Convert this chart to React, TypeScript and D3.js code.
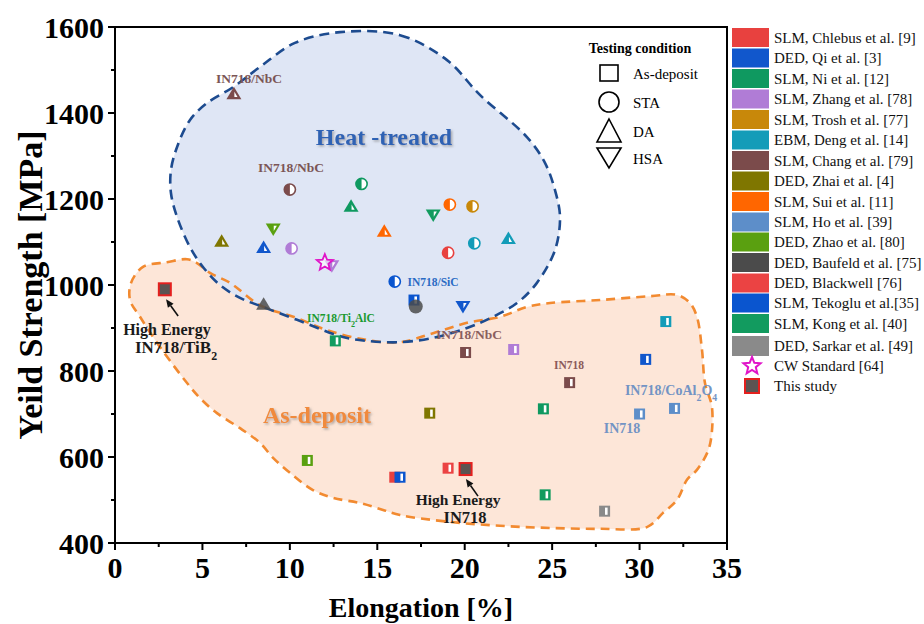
import React from "react";
import * as d3 from "d3";

const W = 924;
const H = 624;
const FONT = "'Liberation Serif', 'Times New Roman', serif";

const xTicks = [0, 5, 10, 15, 20, 25, 30, 35];
const yTicks = [400, 600, 800, 1000, 1200, 1400, 1600];

const seriesNames = [
  "SLM, Chlebus et al. [9]",
  "DED, Qi et al. [3]",
  "SLM, Ni et al. [12]",
  "SLM, Zhang et al. [78]",
  "SLM, Trosh et al. [77]",
  "EBM, Deng et al. [14]",
  "SLM, Chang et al. [79]",
  "DED, Zhai et al. [4]",
  "SLM, Sui et al. [11]",
  "SLM, Ho et al. [39]",
  "DED, Zhao et al. [80]",
  "DED, Baufeld et al. [75]",
  "DED, Blackwell [76]",
  "SLM, Tekoglu et al.[35]",
  "SLM, Kong et al. [40]",
  "DED, Sarkar et al. [49]",
];
const seriesColors = [
  "#e8413f", "#1157cc", "#0f9960", "#b07cd6", "#c8880a", "#139cb8",
  "#7b4b4b", "#7f7600", "#ff6600", "#5d8ec9", "#5aa010", "#4b4b4b",
  "#eb4343", "#0a55cf", "#129b5f", "#8a8a8a",
];

const conditionNames = ["As-deposit", "STA", "DA", "HSA"];

// data points: series index, condition index (0 AD, 1 STA, 2 DA, 3 HSA), elongation, yield strength
const ptSeries = [6, 6, 2, 2, 7, 10, 1, 3, 3, 8, 14, 8, 4, 5, 5, 0, 13, 13, 11, 1, 11,
  14, 6, 3, 5, 1, 6, 7, 2, 9, 9, 10, 0, 13, 12, 14, 15];
const ptCond = [2, 1, 1, 2, 2, 3, 2, 1, 3, 2, 3, 1, 1, 2, 1, 1, 1, 0, 1, 3, 2,
  0, 0, 0, 0, 0, 0, 0, 0, 0, 0, 0, 0, 0, 0, 0, 0];
const ptElong = [6.8, 10.0, 14.1, 13.5, 6.1, 9.05, 8.5, 10.1, 12.4, 15.4, 18.2, 19.15, 20.45, 22.5, 20.55, 19.05, 16.0, 17.1, 17.2, 19.9, 8.5,
  12.6, 20.05, 22.8, 31.5, 30.35, 26.0, 18.0, 24.5, 30.0, 32.0, 11.0, 16.0, 16.3, 19.05, 24.6, 28.0];
const ptYS = [1445, 1222, 1235, 1183, 1102, 1130, 1087, 1085, 1045, 1125, 1163, 1187, 1183, 1108, 1097, 1075, 1008, 965, 950, 950, 955,
  870, 843, 850, 915, 827, 773, 702, 712, 700, 713, 592, 553, 553, 574, 512, 474];

const cwElong = [12.0];
const cwYS = [1052];
const studyElong = [2.85, 20.05];
const studyYS = [990, 572];

// region outlines (data units)
const heatElong = [12.87, 16.3, 18.99, 20.87, 23.56, 24.59, 25.16, 25.45, 25.16, 24.13, 22.99, 21.62, 20.13, 18.19, 16.3, 14.41, 13.04, 10.41, 8.46, 7.15, 6.0, 5.03, 4.29, 3.55, 3.2, 3.2, 3.55, 4.29, 5.26, 6.75, 8.29, 10.29];
const heatYS = [1588, 1581, 1523, 1442, 1344, 1284, 1221, 1158, 1081, 1005, 958, 926, 900, 877, 867, 870, 879, 919, 949, 970, 1000, 1042, 1088, 1158, 1214, 1267, 1321, 1384, 1423, 1460, 1507, 1563];
const depElong = [1.6, 2.97, 4.12, 4.69, 5.43, 6.58, 8.29, 10.41, 12.12, 14.41, 16.3, 18.19, 20.13, 22.02, 23.56, 24.88, 27.74, 30.6, 32.14, 32.88, 33.28, 33.57, 33.74, 34.14, 34.08, 33.86, 33.28, 32.71, 32.14, 31.34, 30.42, 27.74, 24.88, 22.02, 19.16, 16.3, 15.33, 14.01, 12.47, 11.32, 10.01, 9.04, 8.29, 7.15, 5.83, 4.86, 4.12, 2.57, 1.43, 0.86, 0.92];
const depYS = [1042, 1053, 1060, 1051, 1028, 1005, 953, 923, 895, 872, 867, 888, 912, 926, 949, 958, 965, 974, 977, 958, 926, 849, 772, 716, 640, 609, 570, 547, 500, 470, 437, 433, 435, 440, 449, 465, 477, 493, 505, 523, 563, 598, 633, 667, 702, 737, 772, 856, 926, 965, 1005];

// annotation labels
const labelText = ["IN718/NbC", "IN718/NbC", "IN718/SiC", "IN718/Ti|2|AlC", "IN718/NbC", "IN718", "IN718/CoAl|2|O|4", "IN718"];
const labelElong = [7.66, 10.07, 18.19, 12.92, 20.24, 25.96, 31.8, 29.0];
const labelYS = [1470, 1263, 998, 914, 874, 805, 744, 656];
const labelColor = ["#7b5555", "#7b5555", "#2a6bc4", "#1b9a30", "#8a5e5e", "#8b5a5a", "#7394c4", "#7394c4"];
const labelSize = [13.5, 13.5, 11.5, 11.5, 13.5, 11.5, 14, 14];

const xScale = d3.scaleLinear().domain([0, 35]).range([115, 727]);
const yScale = d3.scaleLinear().domain([400, 1600]).range([543, 27]);

function renderSub(t: string) {
  const parts = t.split("|");
  return parts.map((p, i) =>
    i % 2 === 1 ? (
      <tspan key={i} baselineShift="sub" fontSize="70%">{p}</tspan>
    ) : (
      <tspan key={i}>{p}</tspan>
    )
  );
}

function Marker({ cx, cy, cond, color, solid }: { cx: number; cy: number; cond: number; color: string; solid?: boolean }) {
  if (cond === 0) {
    return (
      <g>
        <rect x={cx - 5.5} y={cy - 5.5} width={11} height={11} fill={color} />
        {!solid && <rect x={cx + 0.4} y={cy - 3.6} width={2.6} height={7.2} fill="#fff" />}
      </g>
    );
  }
  if (cond === 1) {
    const r = solid ? 7 : 5.6;
    if (solid) return <circle cx={cx} cy={cy} r={r} fill={color} opacity={0.85} />;
    return (
      <g>
        <circle cx={cx} cy={cy} r={r} fill="#fff" stroke={color} strokeWidth={1.6} />
        <path d={`M${cx},${cy - r} A${r},${r} 0 0 0 ${cx},${cy + r} Z`} fill={color} />
      </g>
    );
  }
  if (cond === 2) {
    return (
      <g>
        <polygon points={`${cx},${cy - 7} ${cx + 7.5},${cy + 5.5} ${cx - 7.5},${cy + 5.5}`} fill={color} opacity={solid ? 0.85 : 1} />
        {!solid && <polygon points={`${cx + 0.5},${cy - 1.8} ${cx + 0.5},${cy + 3.4} ${cx + 3.6},${cy + 3.4}`} fill="#fff" />}
      </g>
    );
  }
  return (
    <g>
      <polygon points={`${cx - 7.5},${cy - 5.5} ${cx + 7.5},${cy - 5.5} ${cx},${cy + 7}`} fill={color} />
      {!solid && <polygon points={`${cx + 0.5},${cy - 3.4} ${cx + 3.6},${cy - 3.4} ${cx + 0.5},${cy + 1.8}`} fill="#fff" />}
    </g>
  );
}

function starPath(cx: number, cy: number, R: number, r: number) {
  const pts: string[] = [];
  for (let i = 0; i < 10; i++) {
    const a = -Math.PI / 2 + (i * Math.PI) / 5;
    const rad = i % 2 === 0 ? R : r;
    pts.push(`${cx + rad * Math.cos(a)},${cy + rad * Math.sin(a)}`);
  }
  return "M" + pts.join("L") + "Z";
}

function Arrow({ x1, y1, x2, y2 }: { x1: number; y1: number; x2: number; y2: number }) {
  const ang = Math.atan2(y2 - y1, x2 - x1);
  const L = 8, w = 3.5;
  const bx = x2 - L * Math.cos(ang), by = y2 - L * Math.sin(ang);
  const p1 = `${bx + w * Math.sin(ang)},${by - w * Math.cos(ang)}`;
  const p2 = `${bx - w * Math.sin(ang)},${by + w * Math.cos(ang)}`;
  return (
    <g>
      <line x1={x1} y1={y1} x2={bx} y2={by} stroke="#111" strokeWidth={1.6} />
      <polygon points={`${x2},${y2} ${p1} ${p2}`} fill="#111" />
    </g>
  );
}

export default function App() {
  const closed = d3
    .line<[number, number]>()
    .x((d) => xScale(d[0]))
    .y((d) => yScale(d[1]))
    .curve(d3.curveCatmullRomClosed.alpha(0.5));
  const heatPath = closed(heatElong.map((v, i) => [v, heatYS[i]] as [number, number])) || "";
  const depPath = closed(depElong.map((v, i) => [v, depYS[i]] as [number, number])) || "";

  const minorX = d3.range(2.5, 35, 5);
  const minorY = d3.range(500, 1600, 200);

  const legendRowY = [37.5, 58, 78.5, 99, 119.5, 140, 160.5, 181, 201.5, 222, 242, 262.5, 283, 303, 323.5, 345.5];

  return (
    <svg width={W} height={H} style={{ position: "absolute", left: 0, top: 0, background: "#fff" }} fontFamily={FONT}>
      <defs>
        <filter id="shadow" x="-10%" y="-20%" width="130%" height="150%">
          <feDropShadow dx="1.5" dy="1.5" stdDeviation="1" floodColor="#777" floodOpacity="0.6" />
        </filter>
      </defs>
      <rect x={0} y={0} width={W} height={H} fill="#fff" />

      {/* regions */}
      <path d={depPath} fill="#fde6d8" stroke="none" />
      <path d={heatPath} fill="#dfe6f5" stroke="none" />
      <path d={depPath} fill="none" stroke="#f28a30" strokeWidth={2.6} strokeDasharray="9,6" />
      <path d={heatPath} fill="none" stroke="#1d4b8f" strokeWidth={2.6} strokeDasharray="10,6" />

      {/* region labels */}
      <text x={xScale(15.38)} y={yScale(1326)} textAnchor="middle" fontSize={24} fontWeight="bold" fill="#2e62b4" filter="url(#shadow)">Heat -treated</text>
      <text x={xScale(11.55)} y={yScale(679)} textAnchor="middle" fontSize={24} fontWeight="bold" fill="#f08a3c" filter="url(#shadow)">As-deposit</text>

      {/* annotation labels */}
      {labelText.map((t, i) => (
        <text key={i} x={xScale(labelElong[i])} y={yScale(labelYS[i])} textAnchor="middle" fontSize={labelSize[i]} fontWeight="bold" fill={labelColor[i]}>
          {renderSub(t)}
        </text>
      ))}

      {/* points */}
      {ptElong.map((v, i) => (
        <Marker key={i} cx={xScale(v)} cy={yScale(ptYS[i])} cond={ptCond[i]} color={seriesColors[ptSeries[i]]} solid={ptSeries[i] === 11} />
      ))}
      {cwElong.map((v, i) => (
        <path key={i} d={starPath(xScale(v), yScale(cwYS[i]), 8.5, 3.8)} fill="#fff" fillOpacity={0.6} stroke="#e014c8" strokeWidth={1.8} />
      ))}
      {studyElong.map((v, i) => (
        <rect key={i} x={xScale(v) - 6} y={yScale(studyYS[i]) - 6} width={12} height={12} fill="#5b5452" stroke="#e4201e" strokeWidth={2} />
      ))}

      {/* high energy annotations */}
      <Arrow x1={xScale(3.61)} y1={yScale(928)} x2={xScale(2.92)} y2={yScale(967)} />
      <Arrow x1={xScale(20.76)} y1={yScale(509)} x2={xScale(20.07)} y2={yScale(549)} />
      <text x={xScale(2.97)} y={yScale(883)} textAnchor="middle" fontSize={16} fontWeight="bold" fill="#1a1a1a">High Energy</text>
      <text x={xScale(3.49)} y={yScale(842)} textAnchor="middle" fontSize={17} fontWeight="bold" fill="#1a1a1a">{renderSub("IN718/TiB|2|")}</text>
      <text x={xScale(19.62)} y={yScale(488)} textAnchor="middle" fontSize={15.5} fontWeight="bold" fill="#1a1a1a">High Energy</text>
      <text x={xScale(20.02)} y={yScale(447)} textAnchor="middle" fontSize={16.5} fontWeight="bold" fill="#1a1a1a">IN718</text>

      {/* frame */}
      <rect x={115} y={27} width={612} height={516} fill="none" stroke="#000" strokeWidth={2} />

      {/* ticks */}
      {xTicks.map((t) => (
        <g key={t}>
          <line x1={xScale(t)} x2={xScale(t)} y1={543} y2={550} stroke="#000" strokeWidth={2} />
          <text x={xScale(t)} y={578} textAnchor="middle" fontSize={30} fontWeight="bold">{t}</text>
        </g>
      ))}
      {minorX.map((t) => (
        <line key={t} x1={xScale(t)} x2={xScale(t)} y1={543} y2={547} stroke="#000" strokeWidth={2} />
      ))}
      {yTicks.map((t) => (
        <g key={t}>
          <line x1={108} x2={115} y1={yScale(t)} y2={yScale(t)} stroke="#000" strokeWidth={2} />
          <text x={104} y={yScale(t)} dy="0.35em" textAnchor="end" fontSize={30} fontWeight="bold">{t}</text>
        </g>
      ))}
      {minorY.map((t) => (
        <line key={t} x1={111} x2={115} y1={yScale(t)} y2={yScale(t)} stroke="#000" strokeWidth={2} />
      ))}

      {/* axis titles */}
      <text x={421} y={617} textAnchor="middle" fontSize={28} fontWeight="bold">Elongation [%]</text>
      <text transform={`translate(42,285) rotate(-90)`} textAnchor="middle" fontSize={34} fontWeight="bold">Yeild Strength [MPa]</text>

      {/* testing condition legend */}
      <text x={640} y={53} textAnchor="middle" fontSize={14} fontWeight="bold">Testing condition</text>
      {conditionNames.map((c, i) => {
        const cy = [73, 102, 131, 158][i];
        const cx = 609;
        let shape;
        if (i === 0) shape = <rect x={cx - 9} y={cy - 8} width={18} height={16} fill="none" stroke="#000" strokeWidth={1.6} />;
        else if (i === 1) shape = <circle cx={cx} cy={cy} r={10} fill="none" stroke="#000" strokeWidth={1.6} />;
        else if (i === 2) shape = <polygon points={`${cx},${cy - 12} ${cx + 12},${cy + 11} ${cx - 12},${cy + 11}`} fill="none" stroke="#000" strokeWidth={1.6} />;
        else shape = <polygon points={`${cx - 12},${cy - 10} ${cx + 12},${cy - 10} ${cx},${cy + 10}`} fill="none" stroke="#000" strokeWidth={1.6} />;
        return (
          <g key={c}>
            {shape}
            <text x={633} y={cy + 6} fontSize={15}>{c}</text>
          </g>
        );
      })}

      {/* series legend */}
      {seriesNames.map((n, i) => (
        <g key={n}>
          <rect x={732} y={legendRowY[i] - 9.5} width={37} height={i === 15 ? 20 : 19} fill={seriesColors[i]} />
          <text x={774} y={legendRowY[i] + 5} fontSize={15} fill="#111">{n}</text>
        </g>
      ))}
      <path d={starPath(752, 366, 9, 4)} fill="#fff" stroke="#e014c8" strokeWidth={2} />
      <text x={774} y={371} fontSize={15} fill="#111">CW Standard [64]</text>
      <rect x={745} y={379} width={14} height={14} fill="#5b5452" stroke="#e4201e" strokeWidth={2} />
      <text x={774} y={391} fontSize={15} fill="#111">This study</text>
    </svg>
  );
}
